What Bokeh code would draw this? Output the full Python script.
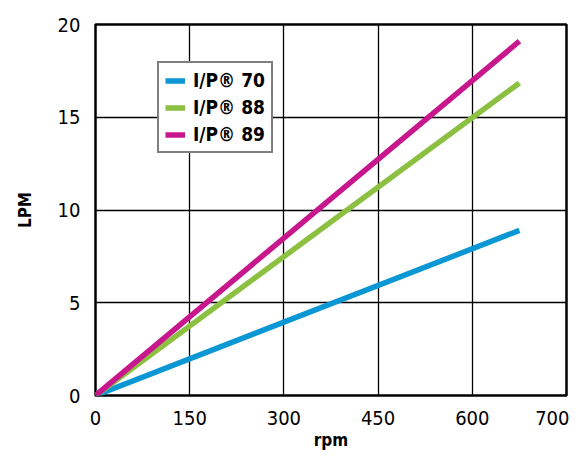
from bokeh.plotting import figure
from bokeh.models import Legend, LegendItem, FixedTicker
from bokeh.embed import file_html
from bokeh.resources import INLINE

rpm = [0, 675]
ip70 = [0, 8.9]
ip88 = [0, 16.85]
ip89 = [0, 19.1]
names = ["I/P® 70", "I/P® 88", "I/P® 89"]
colors = ["#0a97d4", "#8cc040", "#c8168c"]
xticks = [0, 150, 300, 450, 600, 750]
xlabels = ["0", "150", "300", "450", "600", "700"]
yticks = [0, 5, 10, 15, 20]

FONT = "'DejaVu Sans Condensed', 'Liberation Sans Narrow', Roboto, sans-serif"

p = figure(width=569, height=452, output_backend="svg", toolbar_location=None,
           x_range=(0, 750), y_range=(0, 20),
           min_border_left=95, min_border_right=3, min_border_top=24, min_border_bottom=50)

rs = []
for ys, c in zip([ip70, ip88, ip89], colors):
    rs.append(p.line(rpm, ys, line_color=c, line_width=5.5))

p.outline_line_color = "black"
p.outline_line_width = 2.5
p.xaxis.ticker = FixedTicker(ticks=xticks)
p.xaxis.major_label_overrides = {t: l for t, l in zip(xticks, xlabels)}
p.yaxis.ticker = FixedTicker(ticks=yticks)
for ax in [p.xaxis, p.yaxis]:
    ax.axis_line_color = None
    ax.major_tick_line_color = None
    ax.minor_tick_line_color = None
    ax.major_label_text_font = FONT
    ax.major_label_text_font_size = "20px"
    ax.major_label_text_color = "black"
    ax.axis_label_text_font = FONT
    ax.axis_label_text_font_size = "17px"
    ax.axis_label_text_font_style = "bold"
    ax.axis_label_text_color = "black"
p.xaxis.axis_label = "rpm"
p.yaxis.axis_label = "LPM"
p.xaxis.major_label_standoff = 9
p.yaxis.major_label_standoff = 9
p.xaxis.axis_label_standoff = 2
p.yaxis.axis_label_standoff = 20

p.xgrid.grid_line_color = "black"
p.ygrid.grid_line_color = "black"
p.xgrid.grid_line_width = 1.3
p.ygrid.grid_line_width = 1.3
p.xgrid.grid_line_alpha = 1
p.ygrid.grid_line_alpha = 1

legend = Legend(items=[LegendItem(label=n, renderers=[r]) for n, r in zip(names, rs)],
                location=(62, 242))
legend.border_line_color = "black"
legend.border_line_width = 2.5
legend.background_fill_color = "white"
legend.background_fill_alpha = 1
legend.label_text_font = FONT
legend.label_text_font_style = "bold"
legend.label_text_font_size = "19px"
legend.label_text_color = "black"
legend.glyph_width = 20
legend.glyph_height = 21
legend.label_height = 21
legend.spacing = 5
legend.padding = 6
legend.margin = 0
legend.label_standoff = 8
p.add_layout(legend, "center")

open("out.html", "w").write(file_html(p, INLINE))
